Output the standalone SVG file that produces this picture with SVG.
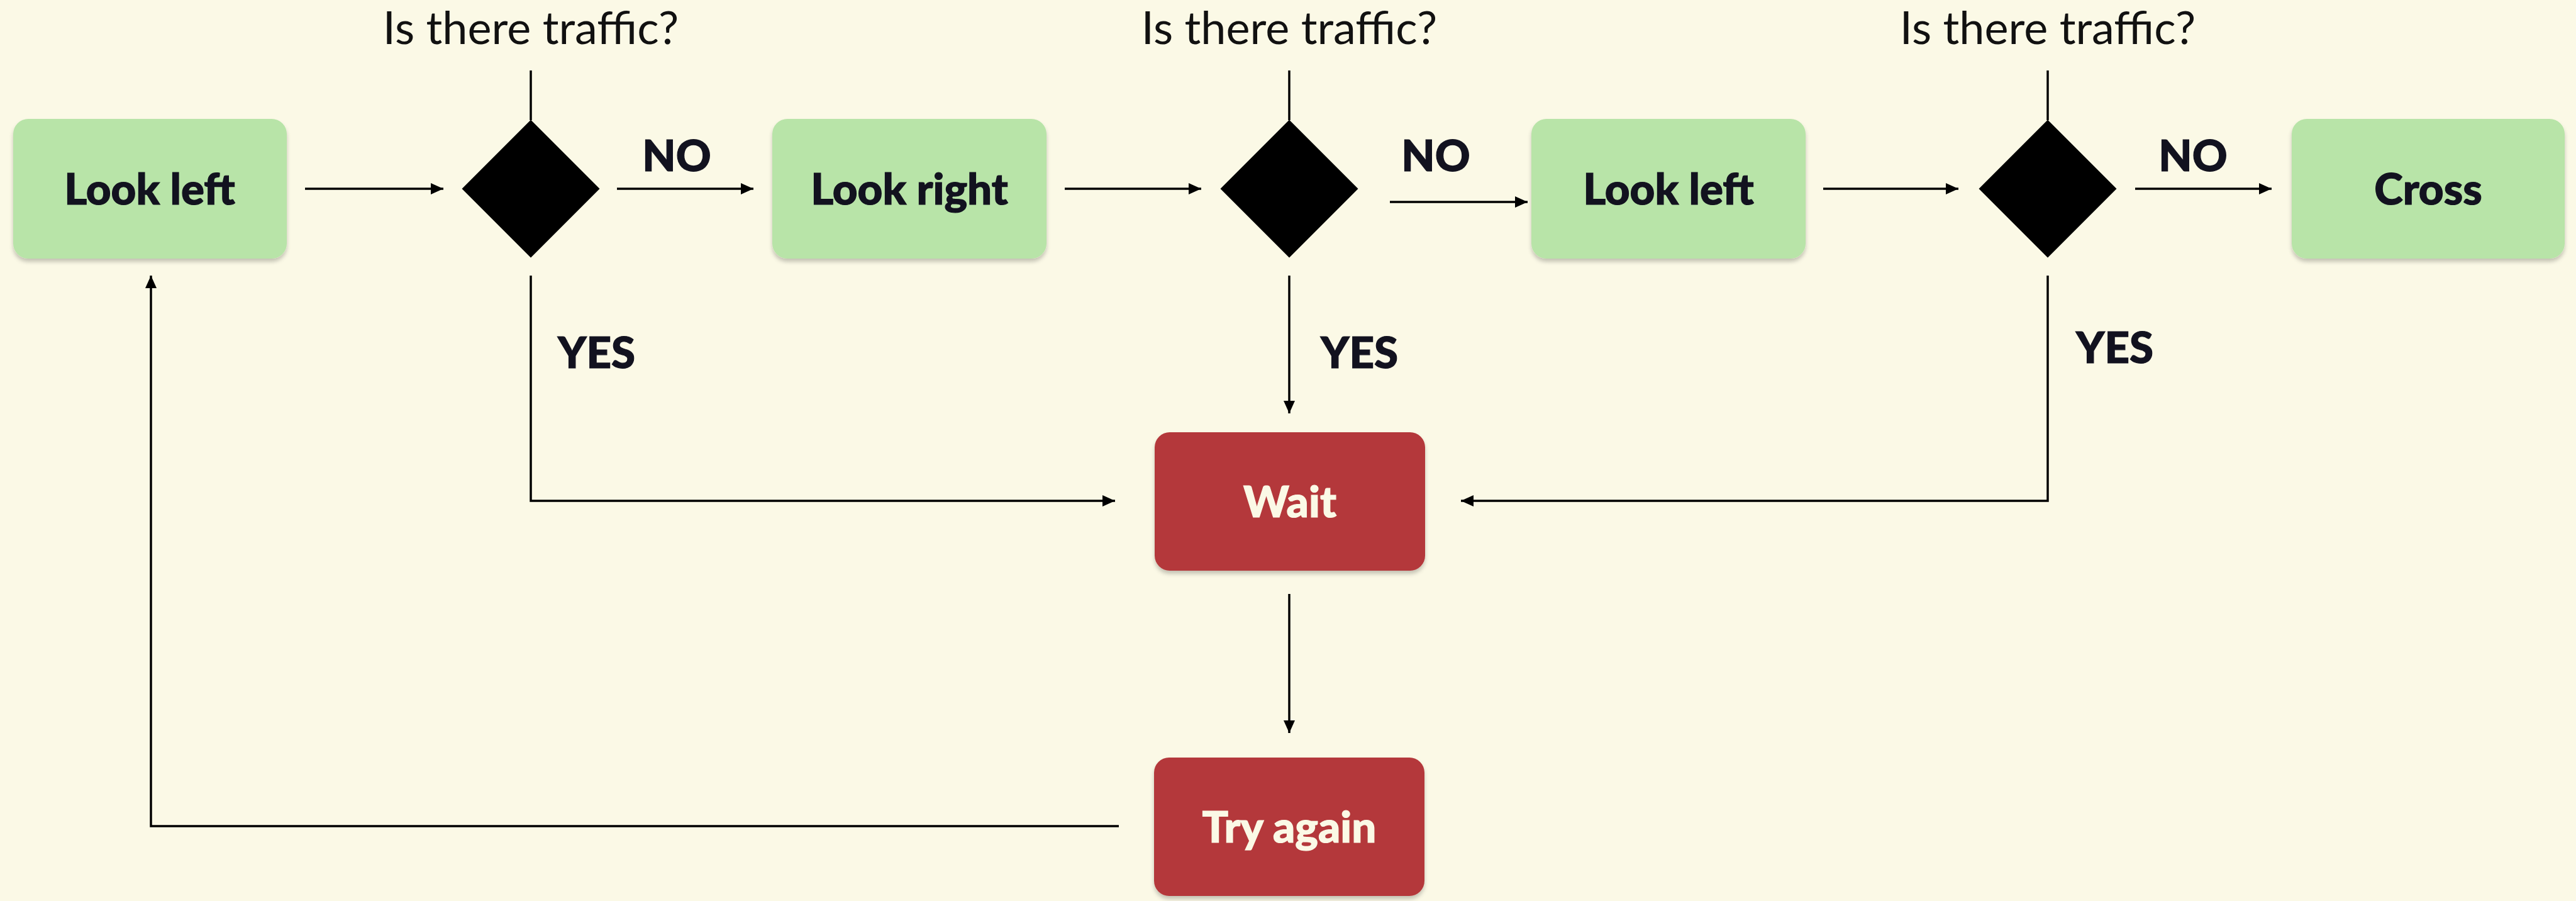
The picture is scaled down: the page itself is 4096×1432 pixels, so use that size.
<svg xmlns="http://www.w3.org/2000/svg" width="4096" height="1432" viewBox="0 0 4096 1432">
<style>
.bg{fill:#FBF9E6}
.green{fill:#B8E4A8;filter:url(#sh)}
.red{fill:#B4383A;filter:url(#sh)}
.dia{fill:#000}
.lbl{font-family:Lato,"Liberation Sans",sans-serif;font-weight:900;font-size:69px;fill:#12121F;stroke:#12121F;stroke-width:1.2;text-anchor:middle}
.wlbl{font-family:Lato,"Liberation Sans",sans-serif;font-weight:900;font-size:69px;fill:#FBF9E6;stroke:#FBF9E6;stroke-width:1.2;text-anchor:middle}
.q{font-family:Lato,"Liberation Sans",sans-serif;font-weight:400;font-size:72px;fill:#111;text-anchor:middle}
.yn{font-family:Lato,"Liberation Sans",sans-serif;font-weight:900;font-size:69px;fill:#12121F;stroke:#12121F;stroke-width:1.2}
.c{stroke:#000;stroke-width:3.5;fill:none}
.ca{stroke:#000;stroke-width:3.5;fill:none;marker-end:url(#ah)}
</style>
<defs>
<filter id="sh" x="-10%" y="-10%" width="120%" height="130%">
<feDropShadow dx="0" dy="5" stdDeviation="3" flood-color="#000" flood-opacity="0.22"/>
</filter>
<marker id="ah" markerUnits="userSpaceOnUse" markerWidth="22" markerHeight="20" refX="20" refY="9" orient="auto">
<path d="M0,0 L20,9 L0,18 z" fill="#000"/>
</marker>
</defs>
<rect class="bg" x="0" y="0" width="4096" height="1432"/>

<g id="connectors">
<line class="ca" x1="485" y1="300" x2="705" y2="300"/>
<line class="ca" x1="981" y1="300" x2="1198" y2="300"/>
<line class="ca" x1="1693" y1="300" x2="1910" y2="300"/>
<line class="ca" x1="2210" y1="321" x2="2429" y2="321"/>
<line class="ca" x1="2899" y1="300" x2="3114" y2="300"/>
<line class="ca" x1="3395" y1="300" x2="3612" y2="300"/>
<line class="c" x1="844" y1="112" x2="844" y2="191"/>
<line class="c" x1="2050" y1="112" x2="2050" y2="191"/>
<line class="c" x1="3256" y1="112" x2="3256" y2="191"/>
<polyline class="ca" points="844,438 844,796 1773,796"/>
<line class="ca" x1="2050" y1="438" x2="2050" y2="657"/>
<polyline class="ca" points="3256,438 3256,796 2323,796"/>
<line class="ca" x1="2050" y1="944" x2="2050" y2="1165"/>
<polyline class="ca" points="1779,1313 240,1313 240,438"/>
</g>

<g id="q1"><text class="q" x="844" y="70">Is there traffic?</text></g>
<g id="q2"><text class="q" x="2050" y="70">Is there traffic?</text></g>
<g id="q3"><text class="q" x="3256" y="70">Is there traffic?</text></g>

<g id="n-lookleft1"><rect class="green" x="21" y="189" width="435" height="222" rx="24"/><text class="lbl" x="238" y="325">Look left</text></g>
<g id="d1"><polygon class="dia" points="844,190.5 953.5,300 844,409.5 734.5,300"/></g>
<g id="n-lookright"><rect class="green" x="1228" y="189" width="436" height="222" rx="24"/><text class="lbl" x="1446" y="325">Look right</text></g>
<g id="d2"><polygon class="dia" points="2050,190.5 2159.5,300 2050,409.5 1940.5,300"/></g>
<g id="n-lookleft2"><rect class="green" x="2435" y="189" width="436" height="222" rx="24"/><text class="lbl" x="2653" y="325">Look left</text></g>
<g id="d3"><polygon class="dia" points="3256,190.5 3365.5,300 3256,409.5 3146.5,300"/></g>
<g id="n-cross"><rect class="green" x="3644" y="189" width="434" height="222" rx="24"/><text class="lbl" x="3861" y="325">Cross</text></g>

<g id="n-wait"><rect class="red" x="1836" y="687" width="430" height="220" rx="24"/><text class="wlbl" x="2051" y="822">Wait</text></g>
<g id="n-tryagain"><rect class="red" x="1835" y="1204" width="430" height="220" rx="24"/><text class="wlbl" x="2050" y="1339">Try again</text></g>

<g id="labels">
<text class="yn" x="1076" y="272" text-anchor="middle">NO</text>
<text class="yn" x="2283" y="272" text-anchor="middle">NO</text>
<text class="yn" x="3487" y="272" text-anchor="middle">NO</text>
<text class="yn" x="887" y="585">YES</text>
<text class="yn" x="2100" y="585">YES</text>
<text class="yn" x="3301" y="577">YES</text>
</g>
</svg>
